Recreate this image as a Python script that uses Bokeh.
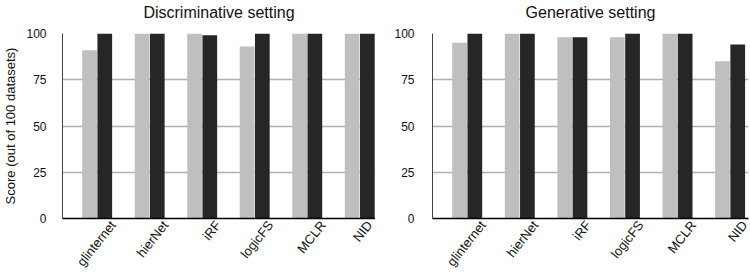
import math
from bokeh.plotting import figure
from bokeh.layouts import row
from bokeh.models import Range1d, FixedTicker, ColumnDataSource, LinearAxis, Title
from bokeh.transform import dodge
from bokeh.embed import file_html
from bokeh.resources import INLINE

methods = ["glinternet", "hierNet", "iRF", "logicFS", "MCLR", "NID"]
disc_gray = [91, 100, 100, 93, 100, 100]
disc_black = [100, 100, 99, 100, 100, 100]
gen_gray = [95, 100, 98, 98, 100, 85]
gen_black = [100, 100, 98, 100, 100, 94]
y_ticks = [0, 25, 50, 75, 100]

FONT = "Liberation Sans"
GRAY = "#bfbfbf"
BLACK = "#262626"
TXT = "#111111"
LABEL_SHIFT = 0.3  # category units: rotated labels end to the right of the bar pair
LABEL_ANGLE = 0.9


def make_panel(title, gray_vals, black_vals, show_ylabel, border_left, border_right,
               x_start, x_end, ylab_standoff):
    xs = list(range(1, len(methods) + 1))
    p = figure(width=375, height=276, output_backend="svg", toolbar_location=None,
               x_range=Range1d(x_start, x_end), y_range=Range1d(0, 100),
               min_border_left=border_left, min_border_right=border_right,
               min_border_top=33, min_border_bottom=58, title=None,
               x_axis_location=None)
    spacer = Title(text=" ", text_font_size="1px", standoff=10)
    main_title = Title(text=title, align="center", text_font=FONT, text_font_size="16px",
                       text_font_style="normal", text_color=TXT, standoff=0)
    p.add_layout(spacer, "above")
    p.add_layout(main_title, "above")

    src = ColumnDataSource(dict(x=xs, g=gray_vals, b=black_vals))
    p.vbar(x=dodge("x", -0.145, range=p.x_range), top="g", width=0.28, source=src,
           fill_color=GRAY, line_color=None)
    p.vbar(x=dodge("x", 0.145, range=p.x_range), top="b", width=0.28, source=src,
           fill_color=BLACK, line_color=None)

    p.outline_line_color = None
    p.xgrid.grid_line_color = None
    p.ygrid.ticker = FixedTicker(ticks=y_ticks)
    p.ygrid.grid_line_color = "#b0b0b0"
    p.ygrid.grid_line_width = 1.5

    p.extra_x_ranges = {"lab": Range1d(x_start - LABEL_SHIFT, x_end - LABEL_SHIFT)}
    xax = LinearAxis(x_range_name="lab", ticker=FixedTicker(ticks=xs),
                     major_label_overrides={x: m for x, m in zip(xs, methods)},
                     major_label_orientation=LABEL_ANGLE,
                     major_tick_line_color=None, minor_tick_line_color=None,
                     major_tick_out=0, major_tick_in=0, axis_label_standoff=0,
                     axis_line_color="black", axis_line_width=1.5,
                     major_label_text_font=FONT, major_label_text_font_size="13px",
                     major_label_text_color=TXT, major_label_standoff=4)
    p.add_layout(xax, "below")

    p.yaxis.ticker = FixedTicker(ticks=y_ticks)
    p.yaxis.major_tick_line_color = None
    p.yaxis.minor_tick_line_color = None
    p.yaxis.major_tick_out = 0
    p.yaxis.major_tick_in = 0
    p.yaxis.axis_line_color = "#444444"
    p.yaxis.axis_line_width = 1
    p.yaxis.major_label_text_font = FONT
    p.yaxis.major_label_text_font_size = "12px"
    p.yaxis.major_label_text_color = TXT
    p.yaxis.major_label_standoff = ylab_standoff
    if show_ylabel:
        p.yaxis.axis_label = "Score (out of 100 datasets)"
        p.yaxis.axis_label_text_font = FONT
        p.yaxis.axis_label_text_font_size = "13px"
        p.yaxis.axis_label_text_font_style = "normal"
        p.yaxis.axis_label_text_color = TXT
        p.yaxis.axis_label_standoff = 5
    else:
        p.yaxis.axis_label_standoff = 0
    return p


p1 = make_panel("Discriminative setting", disc_gray, disc_black, True, 62, 0,
                0.34, 6.30, 16)
p2 = make_panel("Generative setting", gen_gray, gen_black, False, 57, 2,
                0.34, 6.35, 18)

layout = row(p1, p2, spacing=0)
open("out.html", "w").write(file_html(layout, INLINE))
